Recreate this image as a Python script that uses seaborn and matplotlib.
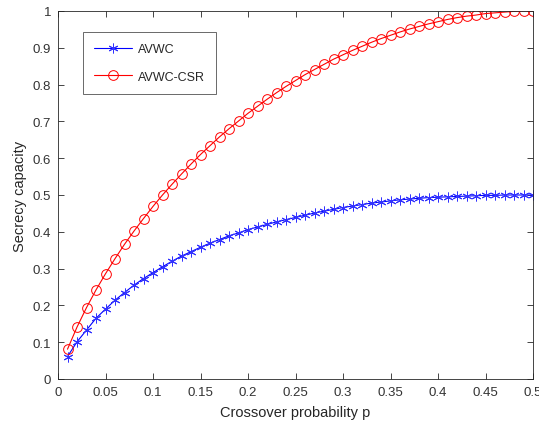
import matplotlib
matplotlib.use("Agg")
import matplotlib.pyplot as plt
import seaborn as sns
import pandas as pd
from matplotlib.ticker import FuncFormatter

p = [round(0.01 * i, 2) for i in range(1, 51)]
avwc = [0.061, 0.101, 0.133, 0.165, 0.190, 0.214, 0.235, 0.255, 0.273, 0.289,
        0.305, 0.320, 0.334, 0.346, 0.358, 0.369, 0.379, 0.389, 0.397, 0.406,
        0.413, 0.420, 0.427, 0.433, 0.439, 0.445, 0.451, 0.456, 0.461, 0.466,
        0.470, 0.474, 0.478, 0.481, 0.484, 0.487, 0.489, 0.491, 0.493, 0.494,
        0.495, 0.496, 0.497, 0.498, 0.499, 0.499, 0.500, 0.500, 0.500, 0.500]
avwc_csr = [0.081, 0.141, 0.194, 0.242, 0.286, 0.327, 0.366, 0.402, 0.436, 0.469,
            0.500, 0.529, 0.557, 0.584, 0.610, 0.634, 0.658, 0.680, 0.701, 0.722,
            0.741, 0.760, 0.778, 0.795, 0.811, 0.827, 0.841, 0.855, 0.869, 0.881,
            0.893, 0.904, 0.915, 0.925, 0.934, 0.943, 0.951, 0.958, 0.965, 0.971,
            0.977, 0.982, 0.986, 0.989, 0.993, 0.995, 0.997, 0.999, 1.000, 1.000]
series_names = ["AVWC", "AVWC-CSR"]
x_ticks = [0, 0.05, 0.1, 0.15, 0.2, 0.25, 0.3, 0.35, 0.4, 0.45, 0.5]
y_ticks = [0, 0.1, 0.2, 0.3, 0.4, 0.5, 0.6, 0.7, 0.8, 0.9, 1]

sns.set_style("white")
plt.rcParams['font.family'] = ['Liberation Sans', 'DejaVu Sans']
txt = '#262626'

fig = plt.figure(figsize=(5.39, 4.35), dpi=100)
ax = fig.add_axes([58 / 539, 1 - 380 / 435, 475 / 539, 368 / 435])

df1 = pd.DataFrame({"p": p, "v": avwc})
df2 = pd.DataFrame({"p": p, "v": avwc_csr})
sns.lineplot(data=df1, x="p", y="v", ax=ax, color='#0000ff', marker=(6, 2, 0),
             markersize=7, markeredgewidth=0.7, markeredgecolor='#3333ff',
             linewidth=0.8, label=series_names[0])
sns.lineplot(data=df2, x="p", y="v", ax=ax, color='#ff0000', marker='o',
             markersize=7, markerfacecolor='none', markeredgecolor='#ff0000',
             markeredgewidth=0.7, linewidth=0.8, label=series_names[1])

ax.set_xlim(0, 0.5)
ax.set_ylim(0, 1)
ax.set_xticks(x_ticks)
ax.set_yticks(y_ticks)
ax.xaxis.set_major_formatter(FuncFormatter(lambda v, _: f"{v:g}"))
ax.yaxis.set_major_formatter(FuncFormatter(lambda v, _: f"{v:g}"))
ax.tick_params(direction='in', length=4, width=0.6, colors=txt, labelsize=9.5,
               top=True, right=True, bottom=True, left=True, pad=5)
ax.tick_params(axis='both', labelcolor='#333333')
for s in ax.spines.values():
    s.set_visible(True)
    s.set_color(txt)
    s.set_linewidth(0.6)
ax.set_xlabel("Crossover probability p", fontsize=10.5, color=txt, labelpad=5)
ax.set_ylabel("Secrecy capacity", fontsize=10.5, color=txt, labelpad=4)

leg = ax.legend(loc='upper left', bbox_to_anchor=(0.053, 0.943), borderaxespad=0,
                fontsize=9, frameon=True, fancybox=False, edgecolor=txt,
                labelspacing=1.25, handlelength=3.0, handletextpad=0.5,
                borderpad=0.9)
leg.get_frame().set_linewidth(0.6)
for t in leg.get_texts():
    t.set_color(txt)

fig.savefig("out.png", dpi=100)
